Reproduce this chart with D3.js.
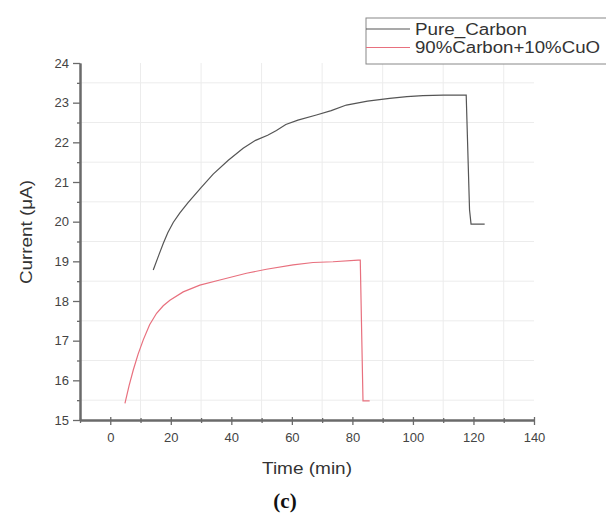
<!DOCTYPE html>
<html><head><meta charset="utf-8">
<script src="https://cdn.jsdelivr.net/npm/d3@7"></script>
<style>body{margin:0;background:#fff}svg{display:block}</style>
</head><body>
<script>
const seriesNames = ["Pure_Carbon", "90%Carbon+10%CuO"];
const pureTime = [14.2, 16, 17.5, 19, 20.8, 23, 25.7, 30, 34.0, 39, 43.9, 48, 52, 54.9, 58, 62, 68.1, 73, 78.0, 85, 92.3, 98, 103.3, 110, 117.6, 118.7, 119.2, 123.7];
const pureCurrent = [18.78, 19.15, 19.45, 19.72, 19.98, 20.22, 20.48, 20.86, 21.2, 21.55, 21.85, 22.05, 22.18, 22.3, 22.45, 22.56, 22.69, 22.8, 22.94, 23.04, 23.11, 23.15, 23.18, 23.19, 23.19, 20.3, 19.94, 19.94];
const cuoTime = [4.85, 6.2, 7.6, 9.2, 10.9, 13, 15.3, 17.5, 19.7, 24.1, 29.6, 36.2, 45.0, 51.6, 60.4, 67.0, 73.6, 81.9, 82.6, 83.5, 85.7];
const cuoCurrent = [15.42, 15.86, 16.26, 16.66, 17.02, 17.4, 17.69, 17.88, 18.02, 18.23, 18.40, 18.53, 18.70, 18.80, 18.91, 18.97, 18.99, 19.03, 19.03, 15.48, 15.48];
const xTicks = [0, 20, 40, 60, 80, 100, 120, 140];
const yTicks = [15, 16, 17, 18, 19, 20, 21, 22, 23, 24];
const xLabel = "Time (min)";
const yLabel = "Current (\u03bcA)";
const caption = "(c)";

const W = 606, H = 518;
const svg = d3.select("body").append("svg").attr("width", W).attr("height", H);
const x = d3.scaleLinear().domain([-10, 140]).range([80, 534]);
const y = d3.scaleLinear().domain([15, 24]).range([420, 63]);
const font = "'Liberation Sans', Arial, sans-serif";

// grid at minor positions
const gx = d3.range(10, 140, 20), gy = d3.range(15.5, 24, 1);
svg.append("g").selectAll("line").data(gx).join("line")
  .attr("x1", d => x(d)).attr("x2", d => x(d)).attr("y1", y(24)).attr("y2", y(15))
  .attr("stroke", "#ececec").attr("stroke-width", 1);
svg.append("g").selectAll("line").data(gy).join("line")
  .attr("y1", d => y(d)).attr("y2", d => y(d)).attr("x1", x(-10)).attr("x2", x(140))
  .attr("stroke", "#ececec").attr("stroke-width", 1);

// x axis
const xa = svg.append("g").attr("transform", `translate(0,${y(15)})`)
  .call(d3.axisBottom(x).tickValues(xTicks).tickSize(5).tickPadding(8).tickSizeOuter(0));
const xm = svg.append("g").attr("transform", `translate(0,${y(15)})`)
  .call(d3.axisBottom(x).tickValues(d3.range(-10, 141, 10).filter(v => !xTicks.includes(v))).tickSize(3).tickFormat("").tickSizeOuter(0));
// y axis
const ya = svg.append("g").attr("transform", `translate(${x(-10)},0)`)
  .call(d3.axisLeft(y).tickValues(yTicks).tickSize(7).tickPadding(4).tickSizeOuter(0));
const ym = svg.append("g").attr("transform", `translate(${x(-10)},0)`)
  .call(d3.axisLeft(y).tickValues(d3.range(15.5, 24, 1)).tickSize(3).tickFormat("").tickSizeOuter(0));
[xa, xm, ya, ym].forEach(g => {
  g.select(".domain").attr("stroke", "#6a6a6a").attr("stroke-width", 2);
  g.selectAll(".tick line").attr("stroke", "#6a6a6a").attr("stroke-width", 1.3);
  g.selectAll("text").attr("font-family", font).attr("font-size", 13).attr("fill", "#444");
});
xa.selectAll(".tick line").attr("y1", -3);
xm.selectAll(".tick line").attr("y1", -2);

const line = d3.line().curve(d3.curveMonotoneX).x(d => x(d[0])).y(d => y(d[1]));
const lineL = d3.line().x(d => x(d[0])).y(d => y(d[1]));
svg.append("path").datum(pureTime.map((t, i) => [t, pureCurrent[i]]))
  .attr("d", lineL).attr("fill", "none").attr("stroke", "#555").attr("stroke-width", 1.2);
svg.append("path").datum(cuoTime.map((t, i) => [t, cuoCurrent[i]]))
  .attr("d", lineL).attr("fill", "none").attr("stroke", "#e8707e").attr("stroke-width", 1.2);

// labels
svg.append("text").attr("x", 307).attr("y", 474).attr("text-anchor", "middle")
  .attr("font-family", font).attr("font-size", 16).attr("fill", "#333")
  .attr("textLength", 90).attr("lengthAdjust", "spacingAndGlyphs").text(xLabel);
svg.append("text").attr("transform", "translate(32,232) rotate(-90)").attr("text-anchor", "middle")
  .attr("font-family", font).attr("font-size", 16).attr("fill", "#333")
  .attr("textLength", 104).attr("lengthAdjust", "spacingAndGlyphs").text(yLabel);
svg.append("text").attr("x", 285).attr("y", 508).attr("text-anchor", "middle")
  .attr("font-family", "'Liberation Serif', 'Times New Roman', serif").attr("font-weight", "bold")
  .attr("font-size", 21).attr("fill", "#111").text(caption);

// legend
const lg = svg.append("g");
lg.append("rect").attr("x", 366).attr("y", 18).attr("width", 250).attr("height", 46)
  .attr("fill", "#fff").attr("stroke", "#888").attr("stroke-width", 1);
const colors = ["#555", "#e8707e"];
const widths = [112, 185];
seriesNames.forEach((n, i) => {
  const yy = 29 + i * 18.5;
  lg.append("line").attr("x1", 366).attr("x2", 410).attr("y1", yy).attr("y2", yy)
    .attr("stroke", colors[i]).attr("stroke-width", 1.2);
  lg.append("text").attr("x", 415).attr("y", yy + 5.5).attr("font-family", font)
    .attr("font-size", 16).attr("fill", "#333")
    .attr("textLength", widths[i]).attr("lengthAdjust", "spacingAndGlyphs").text(n);
});
</script>
</body></html>
